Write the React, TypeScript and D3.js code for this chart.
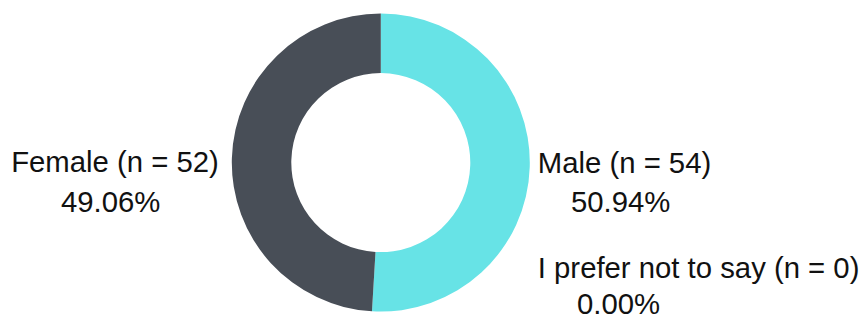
import React from "react";
import * as d3 from "d3";

const categories = ["Male", "Female", "I prefer not to say"];
const counts = [54, 52, 0];
const colors = ["#67E3E6", "#484E57"];

const W = 862;
const H = 320;

export default function App() {
  const cx = 380.8;
  const cy = 162.6;
  const outerR = 149;
  const innerR = 89.5;
  const total = d3.sum(counts);
  const pie = d3.pie<number>().sort(null).value((d) => d);
  const arcs = pie(counts);
  const arc = d3.arc<d3.PieArcDatum<number>>().innerRadius(innerR).outerRadius(outerR);
  const fmt = (v: number) => ((v / total) * 100).toFixed(2) + "%";

  const labelLine = (i: number) => `${categories[i]} (n = ${counts[i]})`;
  const fs = 29.3;
  const font = "'Liberation Sans', Arial, sans-serif";

  return (
    <svg width={W} height={H} style={{ position: "absolute", left: 0, top: 0 }}>
      <rect width={W} height={H} fill="#fff" />
      <g transform={`translate(${cx},${cy})`}>
        {arcs.map((a, i) =>
          a.endAngle > a.startAngle ? (
            <path key={i} d={arc(a) || ""} fill={colors[i]} />
          ) : null
        )}
      </g>
      <g fontFamily={font} fontSize={fs} fill="#111">
        {/* Female, left */}
        <text x={cx - outerR - 13} y={172} textAnchor="end">{labelLine(1)}</text>
        <text x={61} y={212}>{fmt(counts[1])}</text>
        {/* Male, right */}
        <text x={cx + outerR + 8} y={173}>{labelLine(0)}</text>
        <text x={571} y={212}>{fmt(counts[0])}</text>
        {/* Prefer not to say */}
        <text x={cx + outerR + 8} y={278}>{labelLine(2)}</text>
        <text x={577} y={314}>{fmt(counts[2])}</text>
      </g>
    </svg>
  );
}
